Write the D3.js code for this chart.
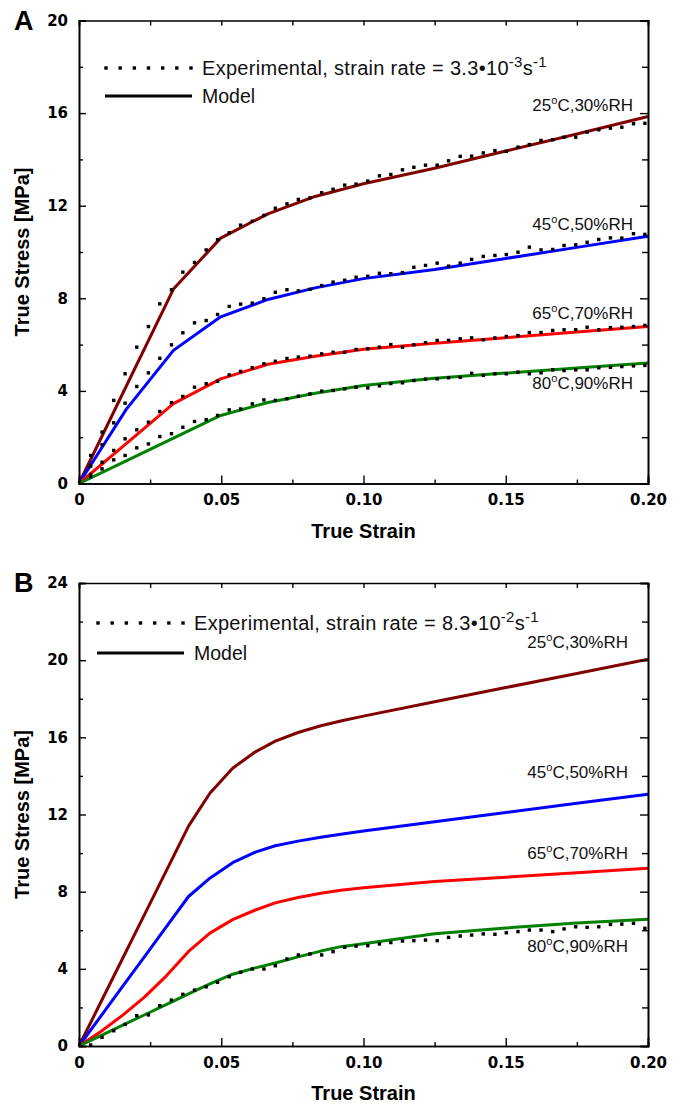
<!DOCTYPE html>
<html>
<head>
<meta charset="utf-8">
<script src="https://cdn.jsdelivr.net/npm/d3@7"></script>
<style>
  body { margin: 0; background: #fff; }
  svg { display: block; }
</style>
</head>
<body>
<svg id="chart" width="686" height="1104"></svg>
<script>
// ---- data -------------------------------------------------------------
const conditions = ["25", "45", "65", "80"];
const conditionRH = ["30", "50", "70", "90"];

// measured strain points (shared by every experimental series)
const expStrain = [0.0041, 0.0081, 0.0122, 0.0162, 0.0203, 0.0244, 0.0284, 0.0325, 0.0365, 0.0406,
  0.0447, 0.0487, 0.0528, 0.0568, 0.0609, 0.0650, 0.0690, 0.0731, 0.0771, 0.0812,
  0.0853, 0.0893, 0.0934, 0.0974, 0.1015, 0.1056, 0.1096, 0.1137, 0.1177, 0.1218,
  0.1259, 0.1299, 0.1340, 0.1380, 0.1421, 0.1462, 0.1502, 0.1543, 0.1583, 0.1624,
  0.1665, 0.1705, 0.1746, 0.1786, 0.1827, 0.1868, 0.1908, 0.1949, 0.1989];

// Panel A: strain rate 3.3e-3 1/s
const expA25 = [1.21, 2.22, 3.59, 4.74, 5.89, 6.78, 7.76, 8.37, 9.13, 9.55, 10.09, 10.53, 10.83, 11.16, 11.33, 11.58, 11.89,
  12.08, 12.27, 12.34, 12.56, 12.71, 12.89, 12.93, 13.06, 13.29, 13.35, 13.55, 13.66, 13.75, 13.75, 13.94, 14.13,
  14.14, 14.28, 14.38, 14.35, 14.53, 14.64, 14.82, 14.85, 14.96, 14.96, 15.18, 15.28, 15.35, 15.39, 15.54, 15.56];
const expA45 = [0.75, 1.67, 2.62, 3.47, 4.19, 4.78, 5.41, 5.99, 6.51, 6.94, 7.04, 7.30, 7.65, 7.75, 7.79, 7.98, 8.26,
  8.37, 8.32, 8.39, 8.55, 8.70, 8.78, 8.91, 8.95, 9.08, 9.06, 9.11, 9.34, 9.42, 9.52, 9.39, 9.52,
  9.68, 9.81, 9.85, 9.89, 9.99, 10.21, 10.09, 10.11, 10.28, 10.31, 10.42, 10.54, 10.61, 10.60, 10.79, 10.76];
const expA65 = [0.39, 0.92, 1.43, 1.93, 2.32, 2.65, 3.11, 3.49, 3.76, 4.16, 4.31, 4.42, 4.69, 4.84, 5.00, 5.17, 5.28,
  5.40, 5.46, 5.50, 5.60, 5.67, 5.67, 5.79, 5.82, 5.89, 6.00, 5.89, 5.99, 6.08, 6.18, 6.18, 6.25,
  6.29, 6.21, 6.29, 6.35, 6.39, 6.52, 6.52, 6.61, 6.64, 6.64, 6.75, 6.64, 6.73, 6.75, 6.78, 6.83];
const expA80 = [0.30, 0.63, 1.02, 1.21, 1.54, 1.71, 2.03, 2.15, 2.43, 2.68, 2.76, 2.94, 3.18, 3.22, 3.44, 3.61, 3.59,
  3.66, 3.77, 3.87, 3.99, 4.02, 4.09, 4.16, 4.13, 4.22, 4.32, 4.35, 4.45, 4.51, 4.52, 4.57, 4.59,
  4.76, 4.67, 4.74, 4.74, 4.81, 4.74, 4.78, 4.91, 4.88, 4.91, 4.91, 5.00, 5.02, 5.05, 5.08, 5.10];

const modelStrainA = [0, 0.0166, 0.0332, 0.0498, 0.0664, 0.083, 0.10, 0.125, 0.15, 0.175, 0.20];
const modelA25 = [0, 4.2, 8.4, 10.6, 11.65, 12.4, 12.95, 13.62, 14.36, 15.1, 15.85];
const modelA45 = [0, 3.2, 5.75, 7.2, 7.95, 8.45, 8.85, 9.24, 9.72, 10.2, 10.68];
const modelA65 = [0, 1.72, 3.45, 4.52, 5.15, 5.5, 5.8, 6.06, 6.30, 6.54, 6.78];
const modelA80 = [0, 0.98, 1.96, 2.94, 3.5, 3.9, 4.23, 4.55, 4.77, 4.99, 5.21];

// Panel B: strain rate 8.3e-2 1/s (measured only at 80 °C)
const expB80 = [0.05, 0.45, 0.79, 1.12, 1.57, 1.61, 2.09, 2.38, 2.68, 2.90, 3.07, 3.30, 3.59, 3.82, 3.99, 3.99, 4.16,
  4.51, 4.72, 4.77, 4.72, 4.89, 5.12, 5.18, 5.20, 5.29, 5.36, 5.44, 5.46, 5.49, 5.46, 5.63, 5.70,
  5.75, 5.81, 5.79, 5.87, 5.93, 6.01, 6.01, 5.93, 6.07, 6.18, 6.15, 6.18, 6.30, 6.32, 6.36, 6.10];

const modelStrainB = [0, 0.0077, 0.0154, 0.0231, 0.0308, 0.0385, 0.046, 0.054, 0.062, 0.069, 0.077, 0.085, 0.092, 0.10, 0.125, 0.15, 0.175, 0.20];
const modelB25 = [0, 2.28, 4.56, 6.84, 9.12, 11.4, 13.1, 14.4, 15.25, 15.8, 16.25, 16.6, 16.85, 17.1, 17.84, 18.58, 19.31, 20.05];
const modelB45 = [0, 1.55, 3.1, 4.65, 6.2, 7.75, 8.7, 9.5, 10.05, 10.38, 10.62, 10.82, 10.98, 11.15, 11.63, 12.1, 12.58, 13.05];
const modelB65 = [0, 0.75, 1.6, 2.55, 3.65, 4.9, 5.85, 6.55, 7.05, 7.42, 7.7, 7.92, 8.07, 8.2, 8.53, 8.75, 8.98, 9.21];
const modelB80 = [0, 0.54, 1.08, 1.62, 2.16, 2.7, 3.22, 3.72, 4.05, 4.3, 4.62, 4.92, 5.15, 5.3, 5.82, 6.12, 6.38, 6.57];

const xMajorTicks = [0, 0.05, 0.10, 0.15, 0.20];
const xMinorTicks = [0.025, 0.075, 0.125, 0.175];
const xTickLabels = ["0", "0.05", "0.10", "0.15", "0.20"];
const yMaxA = 20, yMaxB = 24;

// ---- styling / layout --------------------------------------------------
const colors = ["#800000", "#0000ff", "#ff0000", "#008000"];
const LABEL_FONT = "'Liberation Sans', Arial, sans-serif";
const TICK_FONT = "'DejaVu Sans', Verdana, sans-serif";

const svg = d3.select("#chart");
const x0 = 79, x1 = 648;

const panels = [
  {
    letter: "A", top: 20.5, bottom: 483.5, yMax: yMaxA,
    rate: "3.3", rateExp: "-3",
    legendX0: 106, legendY: 68, legendGap: 28,
    model: [modelA25, modelA45, modelA65, modelA80], modelStrain: modelStrainA,
    exp: [expA25, expA45, expA65, expA80],
    labelX: 633, labelY: [111, 230, 319, 389]
  },
  {
    letter: "B", top: 583, bottom: 1046, yMax: yMaxB,
    rate: "8.3", rateExp: "-2",
    legendX0: 98, legendY: 623, legendGap: 30,
    model: [modelB25, modelB45, modelB65, modelB80], modelStrain: modelStrainB,
    exp: [null, null, null, expB80],
    labelX: 628, labelY: [648, 778, 859, 952]
  }
];

panels.forEach(p => {
  const g = svg.append("g");
  const x = d3.scaleLinear().domain([0, 0.2]).range([x0, x1]);
  const y = d3.scaleLinear().domain([0, p.yMax]).range([p.bottom, p.top]);
  const yMajor = d3.range(0, p.yMax + 0.001, 4);
  const yMinor = d3.range(2, p.yMax, 4);

  // model curves
  const line = d3.line().x(d => x(d[0])).y(d => y(d[1]));
  p.model.forEach((vals, i) => {
    g.append("path")
      .datum(p.modelStrain.map((s, j) => [s, vals[j]]))
      .attr("d", line)
      .attr("fill", "none")
      .attr("stroke", colors[i])
      .attr("stroke-width", 3)
      .attr("stroke-linejoin", "round");
  });

  // experimental points
  const sq = 3.4;
  p.exp.forEach(vals => {
    if (!vals) return;
    g.append("g").selectAll("rect")
      .data(expStrain.map((s, j) => [s, vals[j]]))
      .join("rect")
      .attr("x", d => x(d[0]) - sq / 2)
      .attr("y", d => y(d[1]) - sq / 2)
      .attr("width", sq).attr("height", sq)
      .attr("fill", "#000");
  });

  // axes (ticks pointing inward on all four sides)
  const styleAxis = sel => {
    sel.select(".domain").attr("stroke", "#000").attr("stroke-width", 1.6);
    sel.selectAll(".tick line").attr("stroke", "#000").attr("stroke-width", 1.4);
  };
  const addAxis = (axis, transform, labelled) => {
    const a = g.append("g").attr("transform", transform).call(axis);
    styleAxis(a);
    if (!labelled) a.selectAll(".tick text").remove();
    return a;
  };

  const bottomAxis = addAxis(
    d3.axisBottom(x).tickValues(xMajorTicks).tickSize(-8).tickPadding(11)
      .tickFormat((d, i) => xTickLabels[i]),
    `translate(0,${p.bottom})`, true);
  bottomAxis.selectAll(".tick text")
    .attr("font-family", TICK_FONT).attr("font-weight", "bold").attr("font-size", 15).attr("fill", "#000");
  addAxis(d3.axisBottom(x).tickValues(xMinorTicks).tickSize(-4).tickFormat(""), `translate(0,${p.bottom})`, false);
  addAxis(d3.axisTop(x).tickValues(xMajorTicks.concat(xMinorTicks)).tickSize(-5).tickFormat(""), `translate(0,${p.top})`, false);

  const leftAxis = addAxis(
    d3.axisLeft(y).tickValues(yMajor).tickSize(-7).tickPadding(11).tickFormat(d3.format("d")),
    `translate(${x0},0)`, true);
  leftAxis.selectAll(".tick text")
    .attr("font-family", TICK_FONT).attr("font-weight", "bold").attr("font-size", 15).attr("fill", "#000");
  addAxis(d3.axisLeft(y).tickValues(yMinor).tickSize(-4).tickFormat(""), `translate(${x0},0)`, false);
  addAxis(d3.axisRight(y).tickValues(yMajor).tickSize(-8).tickFormat(""), `translate(${x1},0)`, false);
  addAxis(d3.axisRight(y).tickValues(yMinor).tickSize(-6).tickFormat(""), `translate(${x1},0)`, false);
  g.selectAll(".domain").attr("fill", "none");

  // axis titles
  g.append("text")
    .attr("x", (x0 + x1) / 2).attr("y", p.bottom + 54)
    .attr("text-anchor", "middle")
    .attr("font-family", LABEL_FONT).attr("font-weight", "bold").attr("font-size", 20)
    .text("True Strain");
  g.append("text")
    .attr("transform", `translate(29,${(p.top + p.bottom) / 2}) rotate(-90)`)
    .attr("text-anchor", "middle")
    .attr("font-family", LABEL_FONT).attr("font-weight", "bold").attr("font-size", 20)
    .text("True Stress [MPa]");

  // panel letter
  g.append("text")
    .attr("x", 14).attr("y", p.top + 9)
    .attr("font-family", LABEL_FONT).attr("font-weight", "bold").attr("font-size", 27)
    .text(p.letter);

  // legend
  const lx0 = p.legendX0, lx1 = p.legendX0 + 85;
  g.append("g").selectAll("rect")
    .data(d3.range(7))
    .join("rect")
    .attr("x", i => lx0 + i * (lx1 - lx0) / 6 - 1.7)
    .attr("y", p.legendY - 1.7)
    .attr("width", 3.4).attr("height", 3.4)
    .attr("fill", "#000");
  g.append("line")
    .attr("x1", lx0 - 1).attr("x2", lx1 + 1)
    .attr("y1", p.legendY + p.legendGap).attr("y2", p.legendY + p.legendGap)
    .attr("stroke", "#000").attr("stroke-width", 3);

  const legText = g.append("text")
    .attr("x", lx1 + 11).attr("y", p.legendY + 7)
    .attr("font-family", LABEL_FONT).attr("font-size", 20).attr("fill", "#111")
    .attr("letter-spacing", 0.3);
  legText.append("tspan").text(`Experimental, strain rate = ${p.rate}\u202210`);
  legText.append("tspan").attr("dy", -8).attr("font-size", 15).text(p.rateExp);
  legText.append("tspan").attr("dy", 8).text("s");
  legText.append("tspan").attr("dy", -8).attr("font-size", 15).text("-1");

  g.append("text")
    .attr("x", lx1 + 11).attr("y", p.legendY + p.legendGap + 7)
    .attr("font-family", LABEL_FONT).attr("font-size", 19.5).attr("fill", "#111")
    .text("Model");

  // condition labels at the right end of each curve
  conditions.forEach((c, i) => {
    const t = g.append("text")
      .attr("x", p.labelX).attr("y", p.labelY[i])
      .attr("text-anchor", "end")
      .attr("font-family", LABEL_FONT).attr("font-size", 17).attr("fill", "#111");
    t.append("tspan").text(c);
    t.append("tspan").attr("dy", -7).attr("font-size", 11).text("o");
    t.append("tspan").attr("dy", 7).text(`C,${conditionRH[i]}%RH`);
  });
});
</script>
</body>
</html>
